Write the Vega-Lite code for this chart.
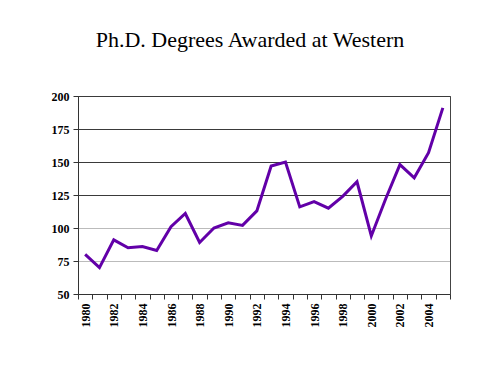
{
  "$schema": "https://vega.github.io/schema/vega-lite/v6.json",
  "autosize": "none",
  "width": 372,
  "height": 198,
  "padding": {"left": 78, "top": 96, "right": 50, "bottom": 81},
  "background": "white",
  "title": {
    "text": "Ph.D. Degrees Awarded at Western",
    "font": "Liberation Serif",
    "fontSize": 22,
    "fontWeight": "normal",
    "color": "black",
    "anchor": "middle",
    "offset": 38,
    "dx": -14
  },
  "config": {
    "view": {"stroke": "#444444", "strokeWidth": 1}
  },
  "data": {
    "values": [
      {"year": 1980, "degrees": 80},
      {"year": 1981, "degrees": 70},
      {"year": 1982, "degrees": 91},
      {"year": 1983, "degrees": 85},
      {"year": 1984, "degrees": 86},
      {"year": 1985, "degrees": 83},
      {"year": 1986, "degrees": 101},
      {"year": 1987, "degrees": 111},
      {"year": 1988, "degrees": 89},
      {"year": 1989, "degrees": 100},
      {"year": 1990, "degrees": 104},
      {"year": 1991, "degrees": 102},
      {"year": 1992, "degrees": 113},
      {"year": 1993, "degrees": 147},
      {"year": 1994, "degrees": 150},
      {"year": 1995, "degrees": 116},
      {"year": 1996, "degrees": 120},
      {"year": 1997, "degrees": 115},
      {"year": 1998, "degrees": 124},
      {"year": 1999, "degrees": 135},
      {"year": 2000, "degrees": 94},
      {"year": 2001, "degrees": 122},
      {"year": 2002, "degrees": 148},
      {"year": 2003, "degrees": 138},
      {"year": 2004, "degrees": 157},
      {"year": 2005, "degrees": 191}
    ]
  },
  "mark": {"type": "line", "color": "#6200a8", "strokeWidth": 3},
  "encoding": {
    "x": {
      "field": "year",
      "type": "ordinal",
      "scale": {"paddingInner": 0, "paddingOuter": 0},
      "axis": {
        "title": null,
        "tickBand": "extent",
        "labelAngle": -90,
        "labelExpr": "datum.value % 2 == 0 ? datum.label : ''",
        "labelFont": "Liberation Serif",
        "labelFontWeight": "bold",
        "labelFontSize": 12,
        "labelColor": "black",
        "labelPadding": 4,
        "domainColor": "#333333",
        "tickColor": "#333333",
        "tickSize": 5,
        "grid": false
      }
    },
    "y": {
      "field": "degrees",
      "type": "quantitative",
      "scale": {"domain": [50, 200], "nice": false, "zero": false},
      "axis": {
        "title": null,
        "values": [50, 75, 100, 125, 150, 175, 200],
        "labelFont": "Liberation Serif",
        "labelFontWeight": "bold",
        "labelFontSize": 12,
        "labelColor": "black",
        "labelPadding": 4,
        "domainColor": "#333333",
        "tickColor": "#333333",
        "tickSize": 5,
        "grid": true,
        "gridColor": {"condition": {"test": "datum.value <= 100", "value": "#777777"}, "value": "#3a3a3a"},
        "gridDash": {"condition": {"test": "datum.value <= 100", "value": [1, 1]}, "value": []},
        "gridOpacity": 1
      }
    }
  }
}
